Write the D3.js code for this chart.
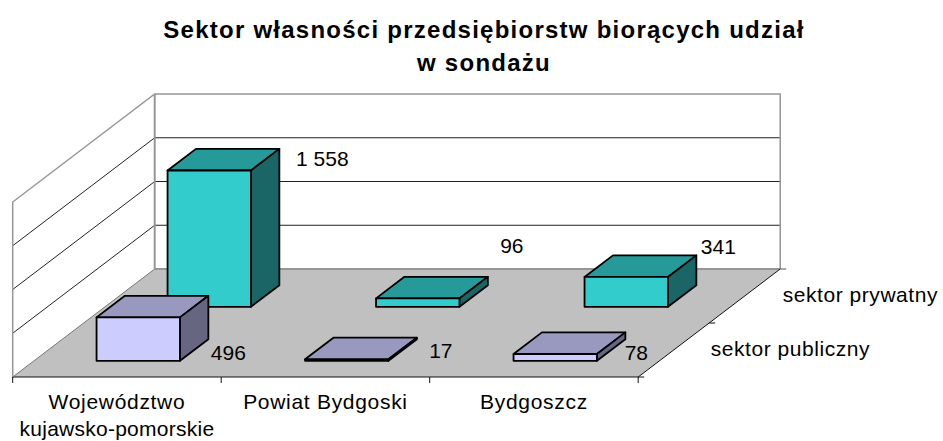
<!DOCTYPE html>
<html><head><meta charset="utf-8">
<script src="https://cdn.jsdelivr.net/npm/d3@7/dist/d3.min.js"></script>
<style>html,body{margin:0;padding:0;background:#fff}svg{display:block}text{font-family:"Liberation Sans",Arial,sans-serif;fill:#000}</style>
</head><body><svg id="c" width="943" height="441"></svg>
<script>
const titleLines = ["Sektor własności przedsiębiorstw biorących udział", "w sondażu"];
const categories = [["Województwo", "kujawsko-pomorskie"], ["Powiat Bydgoski"], ["Bydgoszcz"]];
const series = ["sektor publiczny", "sektor prywatny"];
const publiczny = [496, 17, 78];
const prywatny = [1558, 96, 341];
const yTicks = [0, 500, 1000, 1500, 2000];
const labelNudge = { // label centre relative to the bar's top-back-right corner
  "sektor publiczny": [[20, 57], [24, 13], [11, 20]],
  "sektor prywatny": [[43, 10], [24, -31], [22, -9]]
};
const palette = {
  "sektor publiczny": { front: "#CCCCFF", top: "#9999BF", side: "#666680" },
  "sektor prywatny": { front: "#33CCCC", top: "#269999", side: "#1A6666" }
};

const svg = d3.select("#c");
const X0 = 12.7, Y0 = 377, W = 625.5, DX = 142, DY = 108, H = 175;
const xs = d3.scaleBand().domain(d3.range(categories.length)).range([0, W]).paddingInner(0.6).paddingOuter(0.3);
const xEdge = d3.scaleLinear().domain([0, categories.length]).range([0, W]);
const ds = d3.scaleBand().domain(series).range([0, 1]).paddingInner(0.6).paddingOuter(0.3);
const dEdge = d3.scaleLinear().domain([0, series.length]).range([0, 1]);
const ys = d3.scaleLinear().domain([0, 2000]).range([0, H]);
const P = (u, d, v) => [X0 + u + d * DX, Y0 - d * DY - ys(v)];
const poly = pts => "M" + pts.map(p => p.join(",")).join("L") + "Z";
const line = (a, b, stroke, w) => svg.append("line").attr("x1", a[0]).attr("y1", a[1]).attr("x2", b[0]).attr("y2", b[1]).attr("stroke", stroke).attr("stroke-width", w);

svg.append("path").attr("d", poly([P(0,0,0), P(W,0,0), P(W,1,0), P(0,1,0)])).attr("fill", "#C0C0C0");
yTicks.slice(1, -1).forEach(t => {
  line(P(0,0,t), P(0,1,t), "#222", 1);
  line(P(0,1,t), P(W,1,t), "#222", 1);
});
const wall = "#969696";
svg.append("path").attr("d", "M" + [P(0,0,0), P(0,0,2000), P(0,1,2000), P(W,1,2000), P(W,1,0)].map(p => p.join(",")).join("L")).attr("fill", "none").attr("stroke", wall).attr("stroke-width", 1.5);
line(P(0,1,2000), P(0,1,0), wall, 2);
line(P(0,1,0), P(W,1,0), wall, 2);
line(P(0,0,0), P(W,0,0), "#111", 1);
line(P(W,0,0), P(W,1,0), "#111", 1);
line(P(0,0,0), P(0,1,0), "#777", 1);
d3.range(categories.length + 1).forEach(i => {
  const p = P(xEdge(i), 0, 0);
  line(p, [p[0], p[1] + 6], "#111", 1);
});
d3.range(series.length + 1).forEach(i => {
  const p = P(W, dEdge(i), 0);
  line(p, [p[0] + 6, p[1]], i === 2 ? "#555" : "#111", 1);
});

const rows = [["sektor prywatny", prywatny], ["sektor publiczny", publiczny]];
const fmt = v => d3.format(",")(v).replace(",", " ");
rows.forEach(([name, vals]) => {
  const c = palette[name];
  const d0 = ds(name), d1 = d0 + ds.bandwidth();
  vals.forEach((v, i) => {
    const u0 = xs(i), u1 = u0 + xs.bandwidth();
    const g = svg.append("g").attr("stroke", "#000").attr("stroke-width", 1.8).attr("stroke-linejoin", "round");
    g.append("path").attr("d", poly([P(u0,d0,v), P(u1,d0,v), P(u1,d1,v), P(u0,d1,v)])).attr("fill", c.top);
    g.append("path").attr("d", poly([P(u1,d0,0), P(u1,d1,0), P(u1,d1,v), P(u1,d0,v)])).attr("fill", c.side);
    g.append("path").attr("d", poly([P(u0,d0,0), P(u1,d0,0), P(u1,d0,v), P(u0,d0,v)])).attr("fill", c.front);
  });
});
rows.forEach(([name, vals]) => {
  const d1 = ds(name) + ds.bandwidth();
  vals.forEach((v, i) => {
    const c = P(xs(i) + xs.bandwidth(), d1, v), n = labelNudge[name][i];
    svg.append("text").attr("x", c[0] + n[0]).attr("y", c[1] + n[1]).attr("dy", "0.35em")
      .attr("text-anchor", "middle").attr("font-size", 21).text(fmt(v));
  });
});
categories.forEach((lines, i) => {
  lines.forEach((s, j) => {
    svg.append("text").attr("x", X0 + xs(i) + xs.bandwidth() / 2).attr("y", 409 + j * 27)
      .attr("text-anchor", "middle").attr("font-size", 21).attr("letter-spacing", j ? 0.25 : 0.7).text(s);
  });
});
series.forEach((s, i) => {
  const p = P(W, ds(s) + ds.bandwidth() / 2, 0);
  svg.append("text").attr("x", p[0] + (i ? 38 : 37)).attr("y", p[1] + 5.5).attr("font-size", 21).attr("letter-spacing", 0.55).text(s);
});
titleLines.forEach((s, i) => {
  svg.append("text").attr("x", 484).attr("y", 38 + i * 33).attr("text-anchor", "middle")
    .attr("font-size", 24).attr("font-weight", "bold").attr("letter-spacing", 1.25).text(s);
});
</script></body></html>
